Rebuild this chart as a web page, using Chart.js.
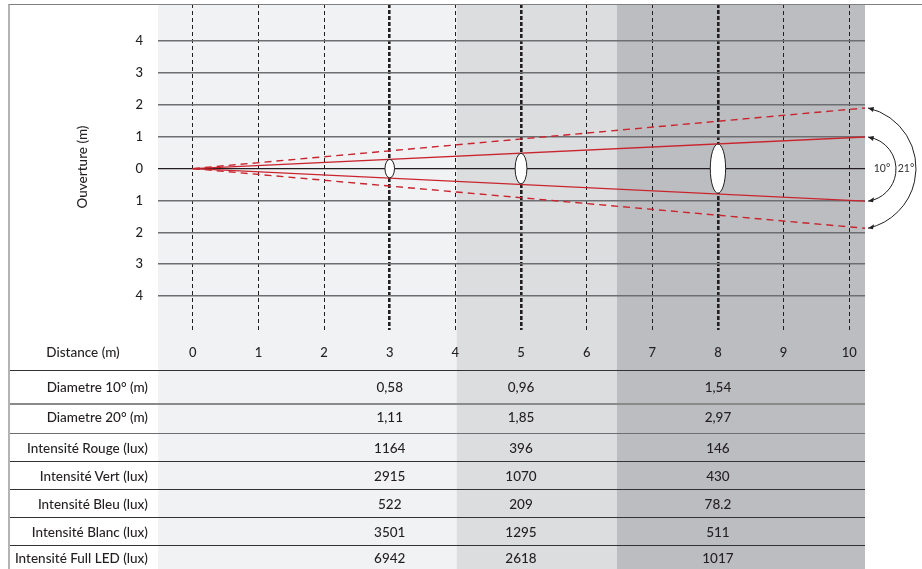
<!DOCTYPE html>
<html>
<head>
<meta charset="utf-8">
<script src="https://cdn.jsdelivr.net/npm/chart.js@4.4.1/dist/chart.umd.min.js"></script>
<style>
    html, body { margin: 0; padding: 0; background: #ffffff; }
    #wrap { position: relative; width: 922px; height: 569px; overflow: hidden; font-family: 'Lato', sans-serif; font-weight: 500; color: #231f20; }
    #beam { position: absolute; left: 0; top: 0; }
    #frame { position: absolute; left: 8px; top: 4px; right: 0; bottom: 0; border-top: 1px solid #808080; border-left: 2px solid #b3b3b3; pointer-events: none; }
    #table { position: absolute; left: 0; top: 0; width: 922px; height: 569px; }
    .row { position: absolute; left: 9px; width: 856px; display: flex; align-items: center; box-sizing: border-box; }
    .label { position: absolute; font-size: 13.5px; white-space: nowrap; }
    .val { position: absolute; font-size: 13.5px; transform: translateX(-50%); white-space: nowrap; }
    #distLabel { position: absolute; left: 83px; top: 352px; transform: translate(-50%, -50%); font-size: 13.5px; white-space: nowrap; }
</style>
</head>
<body>
<div id="wrap">
    <canvas id="beam" width="922" height="569"></canvas>
    <div id="table"></div>
    <div id="distLabel">Distance (m)</div>
    <div id="frame"></div>
</div>
<script>
// ========================================
// BEAM DIAGRAM - DATA
// ========================================

// Axis ticks (m)
const distanceTicks = [0, 1, 2, 3, 4, 5, 6, 7, 8, 9, 10];
const ouvertureTicks = [-4, -3, -2, -1, 0, 1, 2, 3, 4];

// Axis range (m)
const distanceMin = -0.53;
const distanceMax = 10.24;
const ouvertureMin = -5.06;
const ouvertureMax = 5.16;

// Shaded distance zones (m)
const zoneEdges = [-0.53, 4.02, 6.46, 10.24];
const zoneColors = ['#f1f2f4', '#dcdddf', '#bcbdc0'];

// Beam edges at the far end of the chart (m)
const beam10Edges = [0.99, -1.02];
const beam21Edges = [1.9, -1.87];
const angleLabels = ['10°', '21°'];

// Table
const tableDistances = [3, 5, 8];
const rowLabels = [
    'Diametre 10° (m)',
    'Diametre 20° (m)',
    'Intensité Rouge (lux)',
    'Intensité Vert (lux)',
    'Intensité Bleu (lux)',
    'Intensité Blanc (lux)',
    'Intensité Full LED (lux)'
];
const diametre10 = [0.58, 0.96, 1.54];
const diametre20 = [1.11, 1.85, 2.97];
const luxRouge = [1164, 396, 146];
const luxVert = [2915, 1070, 430];
const luxBleu = [522, 209, 78.2];
const luxBlanc = [3501, 1295, 511];
const luxFull = [6942, 2618, 1017];

const ink = '#231f20';
const beamRed = '#c9252f';

Chart.defaults.font.family = 'Lato';
Chart.defaults.font.weight = 500;
Chart.defaults.color = ink;

/**
 * Background zones, drawn down through the table
 */
const zonesPlugin = {
    id: 'zones',
    beforeDraw(chart) {
        const { ctx, chartArea, scales: { x } } = chart;
        ctx.save();
        for (let i = 0; i < zoneColors.length; i++) {
            const x0 = x.getPixelForValue(zoneEdges[i]);
            const x1 = x.getPixelForValue(zoneEdges[i + 1]);
            ctx.fillStyle = zoneColors[i];
            ctx.fillRect(x0, chartArea.top, x1 - x0, chart.height - chartArea.top);
        }
        ctx.restore();
    }
};

/**
 * Spot ellipses at the measured distances
 */
const spotsPlugin = {
    id: 'spots',
    afterDatasetsDraw(chart) {
        const { ctx, scales: { x, y } } = chart;
        const cy = y.getPixelForValue(0);
        ctx.save();
        tableDistances.forEach((d, i) => {
            const cx = x.getPixelForValue(d);
            const ry = Math.abs(y.getPixelForValue(diametre10[i] / 2) - cy);
            const rx = 3 + ry * 0.19;
            ctx.beginPath();
            ctx.ellipse(cx, cy, rx, ry, 0, 0, Math.PI * 2);
            ctx.fillStyle = '#ffffff';
            ctx.fill();
            ctx.lineWidth = 1;
            ctx.strokeStyle = ink;
            ctx.stroke();
        });
        ctx.restore();
    }
};

/**
 * Angle arcs on the right of the beam
 */
const anglesPlugin = {
    id: 'angles',
    afterDraw(chart) {
        const { ctx } = chart;
        const pairs = [[0, 1, 28, 14], [2, 3, 48, 10]];
        ctx.save();
        pairs.forEach(([a, b, bulge, labelBack], k) => {
            const p1 = chart.getDatasetMeta(a).data[1];
            const p2 = chart.getDatasetMeta(b).data[1];
            const x0 = p1.x + 3;
            const ym = (p1.y + p2.y) / 2;
            const h = (p2.y - p1.y) / 2;
            const r = (h * h + bulge * bulge) / (2 * bulge);
            const cx = x0 + bulge - r;
            const a1 = Math.atan2(p1.y - ym, x0 - cx);
            const a2 = Math.atan2(p2.y - ym, x0 - cx);
            ctx.beginPath();
            ctx.arc(cx, ym, r, a1, a2, false);
            ctx.strokeStyle = ink;
            ctx.lineWidth = 1;
            ctx.stroke();
            // arrow heads
            [p1.y, p2.y].forEach((py, j) => {
                const dir = j === 0 ? 1 : -1;
                ctx.beginPath();
                ctx.moveTo(x0, py);
                ctx.lineTo(x0 + 6, py - 2.5 + dir * 1.5);
                ctx.lineTo(x0 + 5, py + 2.5 + dir * 1.5);
                ctx.closePath();
                ctx.fillStyle = ink;
                ctx.fill();
            });
            ctx.font = '500 10.5px Lato';
            ctx.fillStyle = '#3d3d3d';
            ctx.textAlign = 'center';
            ctx.textBaseline = 'middle';
            ctx.fillText(angleLabels[k], x0 + bulge - labelBack, ym);
        });
        ctx.restore();
    }
};

function beamLine(edge, dashed) {
    return {
        data: [{ x: 0, y: 0 }, { x: distanceMax, y: edge }],
        showLine: true,
        borderColor: beamRed,
        borderWidth: 1.4,
        borderDash: dashed ? [7, 5] : [],
        pointRadius: 0,
        clip: false
    };
}

const thickAt = tableDistances;

const chart = new Chart(document.getElementById('beam'), {
    type: 'scatter',
    data: {
        datasets: [
            beamLine(beam10Edges[0], false),
            beamLine(beam10Edges[1], false),
            beamLine(beam21Edges[0], true),
            beamLine(beam21Edges[1], true)
        ]
    },
    options: {
        responsive: false,
        animation: false,
        layout: { padding: { top: 4, right: 57, left: 0, bottom: 0 } },
        plugins: {
            legend: { display: false },
            tooltip: { enabled: false }
        },
        scales: {
            x: {
                type: 'linear',
                min: distanceMin,
                max: distanceMax,
                afterBuildTicks: scale => { scale.ticks = distanceTicks.map(v => ({ value: v })); },
                afterFit: scale => {
                    scale.height = 239;
                    scale.paddingLeft = 0;
                    scale.paddingRight = 0;
                },
                ticks: { padding: 15, font: { size: 13 }, color: ink, maxRotation: 0, autoSkip: false },
                grid: {
                    drawTicks: false,
                    color: ink,
                    lineWidth: ctx => (ctx.tick && thickAt.includes(ctx.tick.value)) ? 2.6 : 1
                },
                border: {
                    display: false,
                    dash: ctx => (ctx.tick && thickAt.includes(ctx.tick.value)) ? [4, 2] : [4, 3]
                }
            },
            y: {
                type: 'linear',
                min: ouvertureMin,
                max: ouvertureMax,
                afterBuildTicks: scale => { scale.ticks = ouvertureTicks.map(v => ({ value: v })); },
                afterFit: scale => {
                    scale.width = 158;
                    scale.paddingTop = 0;
                    scale.paddingBottom = 0;
                },
                ticks: { padding: 15, font: { size: 13 }, color: ink, callback: v => Math.abs(v) },
                title: {
                    display: true,
                    text: 'Ouverture (m)',
                    font: { size: 13.5 },
                    color: ink,
                    padding: { top: 75, bottom: 0 }
                },
                grid: {
                    drawTicks: false,
                    color: ctx => (ctx.tick && ctx.tick.value === 0) ? ink : '#6d6e71',
                    lineWidth: ctx => (ctx.tick && ctx.tick.value === 0) ? 1.2 : 1.6
                },
                border: { display: false }
            }
        }
    },
    plugins: [zonesPlugin, spotsPlugin, anglesPlugin]
});

/**
 * Build the table rows under the chart
 */
function buildTable() {
    const fmtDiam = v => v.toFixed(2).replace('.', ',');
    const fmtLux = v => String(v);
    const rows = [
        diametre10.map(fmtDiam),
        diametre20.map(fmtDiam),
        luxRouge.map(fmtLux),
        luxVert.map(fmtLux),
        luxBleu.map(fmtLux),
        luxBlanc.map(fmtLux),
        luxFull.map(fmtLux)
    ];
    const rowTops = [370, 403, 433, 461, 489, 517, 545, 569];
    const lineStyles = ['1px solid #333', '2px solid #8a8a8a', '1.5px solid #6d6e71', '1px solid #333', '1px solid #333', '1px solid #333', '1px solid #333'];
    const table = document.getElementById('table');
    const x = chart.scales.x;
    rows.forEach((vals, i) => {
        const row = document.createElement('div');
        row.className = 'row';
        row.style.top = rowTops[i] + 'px';
        row.style.height = (rowTops[i + 1] - rowTops[i]) + 'px';
        row.style.borderTop = lineStyles[i];
        if (i === 1) row.style.paddingBottom = '5px';
        const label = document.createElement('span');
        label.className = 'label';
        label.style.right = (856 - 139) + 'px';
        label.textContent = rowLabels[i];
        row.appendChild(label);
        vals.forEach((v, j) => {
            const cell = document.createElement('span');
            cell.className = 'val';
            cell.style.left = (x.getPixelForValue(tableDistances[j]) - 9) + 'px';
            cell.textContent = v;
            row.appendChild(cell);
        });
        table.appendChild(row);
    });
}

buildTable();
</script>
</body>
</html>
